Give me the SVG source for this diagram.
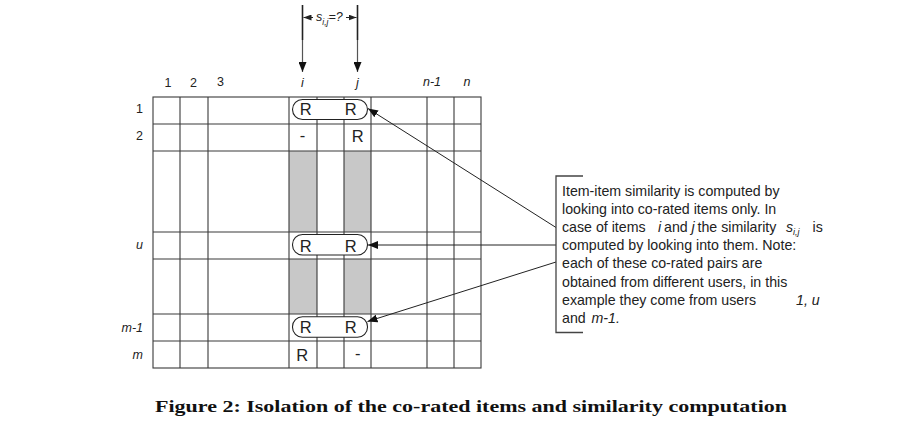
<svg xmlns="http://www.w3.org/2000/svg" width="911" height="438" viewBox="0 0 911 438">
<style>
.lbl{font-family:"Liberation Sans",Arial,sans-serif;font-size:12.5px;fill:#222}
.it{font-style:italic}
.r{font-family:"Liberation Sans",Arial,sans-serif;font-size:16.5px;fill:#222;text-anchor:middle}
.grid{stroke:#3a3a3a;stroke-width:1.1;fill:none}
.pill{fill:#fff;stroke:#222;stroke-width:1.1}
.conn{stroke:#222;stroke-width:1;fill:none}
.note{font-family:"Liberation Sans",Arial,sans-serif;font-size:14.2px;fill:#222}
.cap{font-family:"Liberation Serif","Times New Roman",serif;font-size:17.5px;font-weight:bold;fill:#111}
</style>
<defs>
<marker id="ah" markerUnits="userSpaceOnUse" markerWidth="10" markerHeight="8" refX="10" refY="4" orient="auto">
<path d="M0,0 L10,4 L0,8 z" fill="#111"/>
</marker>
<marker id="sm" markerUnits="userSpaceOnUse" markerWidth="8" markerHeight="6" refX="8" refY="3" orient="auto">
<path d="M0,0 L8,3 L0,6 z" fill="#222"/>
</marker>
</defs>
<rect width="911" height="438" fill="#fff"/>

<g id="matrix">
<rect x="289" y="151" width="28" height="81" fill="#c8c8c8"/>
<rect x="344" y="151" width="27" height="81" fill="#c8c8c8"/>
<rect x="289" y="259" width="28" height="55" fill="#c8c8c8"/>
<rect x="344" y="259" width="27" height="55" fill="#c8c8c8"/>
<rect class="grid" x="153" y="97" width="328" height="271"/>
<path class="grid" d="M180,97V368 M208,97V368 M289,97V368 M317,97V368 M344,97V368 M371,97V368 M427,97V368 M454,97V368 M153,124H481 M153,151H481 M153,232H481 M153,259H481 M153,314H481 M153,341H481"/>
</g>

<g id="col-labels">
<text class="lbl" x="168" y="87" text-anchor="middle">1</text>
<text class="lbl" x="193.5" y="87" text-anchor="middle">2</text>
<text class="lbl" x="220.5" y="86" text-anchor="middle">3</text>
<text class="lbl it" x="302.5" y="86.5" text-anchor="middle">i</text>
<text class="lbl it" x="357.5" y="86.5" text-anchor="middle">j</text>
<text class="lbl it" x="432" y="86" text-anchor="middle">n-1</text>
<text class="lbl it" x="467" y="86" text-anchor="middle">n</text>
</g>

<g id="row-labels">
<text class="lbl" x="143" y="113" text-anchor="end">1</text>
<text class="lbl" x="143" y="140" text-anchor="end">2</text>
<text class="lbl it" x="143" y="249" text-anchor="end">u</text>
<text class="lbl it" x="143" y="332" text-anchor="end">m-1</text>
<text class="lbl it" x="143" y="359" text-anchor="end">m</text>
</g>

<g id="pair-1">
<rect class="pill" x="292.5" y="99.5" width="75" height="20" rx="10"/>
<text class="r" x="305.7" y="115">R</text>
<text class="r" x="350.7" y="115">R</text>
</g>
<g id="row-2">
<text class="r" x="302.5" y="141">-</text>
<text class="r" x="357.7" y="141.7">R</text>
</g>
<g id="pair-u">
<rect class="pill" x="292.5" y="234.5" width="75" height="20.5" rx="10"/>
<text class="r" x="305.7" y="251.7">R</text>
<text class="r" x="350.7" y="251.7">R</text>
</g>
<g id="pair-m1">
<rect class="pill" x="292.5" y="316.8" width="75" height="20.5" rx="10"/>
<text class="r" x="305.7" y="333.3">R</text>
<text class="r" x="350.7" y="333.3">R</text>
</g>
<g id="row-m">
<text class="r" x="302.3" y="360.7">R</text>
<text class="r" x="357.7" y="359">-</text>
</g>

<g id="sim-indicator">
<line x1="302.5" y1="5" x2="302.5" y2="40" stroke="#222" stroke-width="1.6"/>
<line x1="357.5" y1="5" x2="357.5" y2="40" stroke="#222" stroke-width="1.6"/>
<text class="lbl it" x="316" y="21" font-size="12">s<tspan font-size="8.5" dy="4">i,j</tspan><tspan dy="-4">=?</tspan></text>
</g>

<g id="connectors">
<line x1="302.5" y1="40" x2="302.5" y2="72" stroke="#555" stroke-width="1.2" marker-end="url(#ah)"/>
<line x1="357.5" y1="40" x2="357.5" y2="72" stroke="#555" stroke-width="1.2" marker-end="url(#ah)"/>
<line class="conn" x1="313" y1="17.5" x2="303.5" y2="17.5" marker-end="url(#sm)"/>
<line class="conn" x1="346" y1="17.5" x2="356.5" y2="17.5" marker-end="url(#sm)"/>
<line class="conn" x1="556" y1="227.5" x2="368" y2="108.5" marker-end="url(#ah)"/>
<line class="conn" x1="556" y1="245" x2="368" y2="245" marker-end="url(#ah)"/>
<line class="conn" x1="556" y1="262" x2="367.5" y2="321.5" marker-end="url(#ah)"/>
</g>

<g id="note">
<path d="M583,176H556V332.5H583" fill="none" stroke="#444" stroke-width="1.3"/>
<text class="note" x="562" y="195.5">Item-item similarity is computed by</text>
<text class="note" x="562" y="213.7">looking into co-rated items only. In</text>
<text class="note" x="562" y="231.9">case of items <tspan class="it" x="658">i</tspan><tspan x="664">and</tspan><tspan class="it" x="691.5">j</tspan><tspan x="697.5">the similarity</tspan><tspan class="it" x="786">s</tspan><tspan class="it" font-size="9" dy="3.5">i,j</tspan><tspan x="812.5" dy="-3.5">is</tspan></text>
<text class="note" x="562" y="250.1">computed by looking into them. Note:</text>
<text class="note" x="562" y="268.3">each of these co-rated pairs are</text>
<text class="note" x="562" y="286.5">obtained from different users, in this</text>
<text class="note" x="562" y="304.7">example they come from users <tspan class="it" x="796">1, u</tspan></text>
<text class="note" x="562" y="322.9">and <tspan class="it" x="591.5">m-1.</tspan></text>
</g>

<text class="cap" x="155" y="412" textLength="632" lengthAdjust="spacingAndGlyphs">Figure 2:  Isolation of the co-rated items and similarity computation</text>
</svg>
